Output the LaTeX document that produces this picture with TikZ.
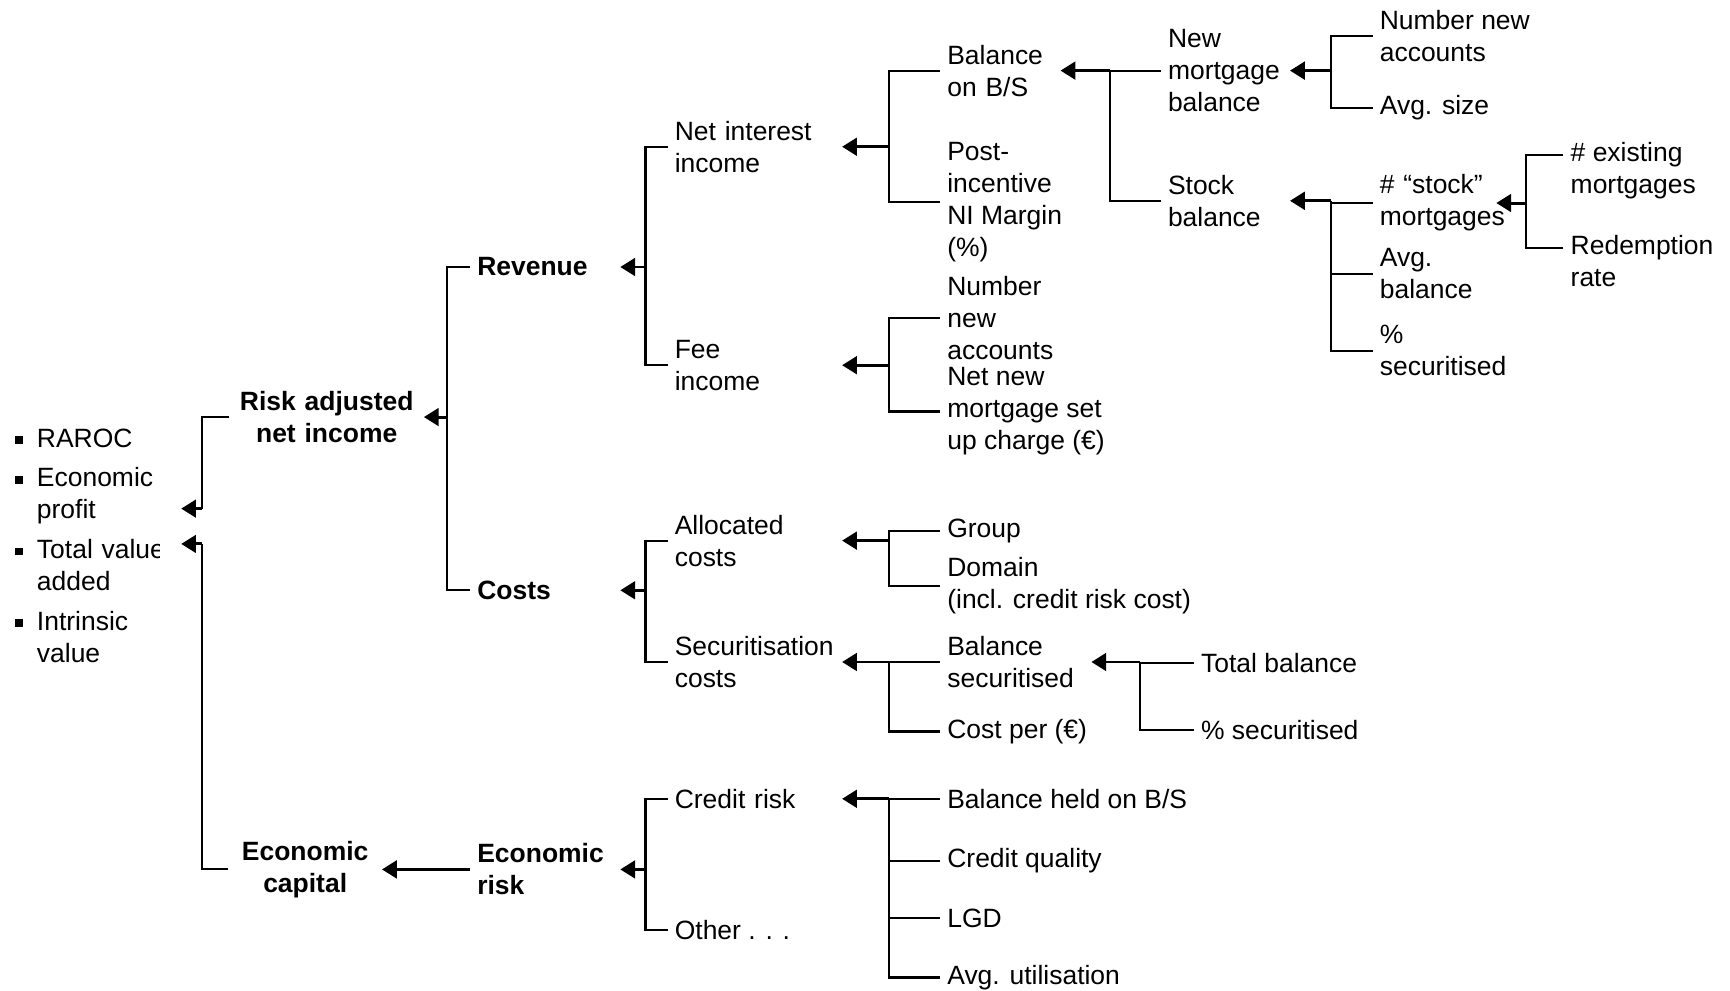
\documentclass[tikz,border=0pt]{standalone}
\usepackage{fontspec}
\setmainfont{Liberation Sans}
\usepackage{tikz}
\usetikzlibrary{arrows.meta}

\newcommand{\sqbul}{\rule[0.12em]{0.3em}{0.3em}}

\begin{document}
\begin{tikzpicture}[x=0.11033mm, y=-0.11033mm,
  lbl/.style={font=\fontsize{7.53}{9.1}\selectfont, align=left, anchor=west,
    inner xsep=0.66mm, inner ysep=0pt},
  hd/.style={lbl, font=\fontsize{7.53}{9.1}\selectfont\bfseries},
  link/.style={line width=0.6pt},
  arr/.style={line width=0.85pt, -{Triangle[length=4.2pt,width=5pt]}}]

  % Canvas
  \fill[white] (0,0) rectangle (1568,898);
  \useasboundingbox (0,0) rectangle (1568,898);

  % Bus columns
  \coordinate (c1) at (405,0);
  \coordinate (c2) at (585,0);
  \coordinate (c3) at (806,0);
  \coordinate (c4) at (1006,0);
  \coordinate (c4s) at (1033,0);
  \coordinate (c5) at (1206,0);
  \coordinate (c6) at (1383,0);
  \coordinate (j1) at (183,461);
  \coordinate (j2) at (183,493);

  % Measures
  \begin{scope}
    \clip (0,0) rectangle (145,898);
    \node[lbl, text width=15.89mm] (kpi) at (7,497) {%
      \begin{tabular}{@{}l@{\hspace{1.4mm}}l@{}}
        \sqbul & RAROC\\[2.2pt]
        \sqbul & Economic\\ & profit\\[2.2pt]
        \sqbul & Total value\\ & added\\[2.2pt]
        \sqbul & Intrinsic\\ & value
      \end{tabular}};
  \end{scope}

  % Level 1
  \node[hd, align=center, text width=17.98mm] (risk) at (208,378) {Risk adjusted\\net income};
  \node[hd, align=center, text width=13.90mm] (cap) at (207,788) {Economic\\capital};

  % Level 2
  \node[hd, text width=13.57mm] (rev) at (426,242) {Revenue};
  \node[hd, text width=13.57mm] (cost) at (426,535) {Costs};
  \node[hd, text width=13.57mm] (erisk) at (426,788) {Economic\\risk};

  % Level 3
  \node[lbl, text width=16mm] (nii) at (605,133) {Net interest\\income};
  \node[lbl, text width=16mm] (fee) at (605,331) {Fee\\income};
  \node[lbl, text width=16mm] (alloc) at (605,490) {Allocated\\costs};
  \node[lbl, text width=16mm] (secur) at (605,600) {Securitisation\\costs};
  \node[lbl, text width=16mm] (credit) at (605,724) {Credit risk};
  \node[lbl] (other) at (605,843) {Other . . .};

  % Level 4
  \node[lbl, text width=10.59mm] (bal) at (852,64) {Balance\\on B/S};
  \node[lbl] (post) at (852,183) {Post-\\incentive\\NI Margin\\(\%)};
  \node[lbl] (numfee) at (852,288) {Number\\new\\accounts};
  \node[lbl] (setup) at (852,373) {Net new\\mortgage set\\up charge (€)};
  \node[lbl] (group) at (852,481) {Group};
  \node[lbl] (domain) at (852,531) {Domain\\(incl. credit risk cost)};
  \node[lbl, text width=13.68mm] (balsec) at (852,600) {Balance\\securitised};
  \node[lbl] (costper) at (852,663) {Cost per (€)};
  \node[lbl] (held) at (852,724) {Balance held on B/S};
  \node[lbl] (quality) at (852,780) {Credit quality};
  \node[lbl] (lgd) at (852,832) {LGD};
  \node[lbl] (util) at (852,886) {Avg. utilisation};

  % Level 5
  \node[lbl, text width=11.47mm] (newm) at (1052,64) {New\\mortgage\\balance};
  \node[lbl, text width=11.47mm] (stock) at (1052,182) {Stock\\balance};
  \node[lbl] (totbal) at (1082,601) {Total balance};
  \node[lbl] (pctbal) at (1082,662) {\% securitised};

  % Level 6
  \node[lbl] (numnew) at (1244,33) {Number new\\accounts};
  \node[lbl] (avgsize) at (1244,98) {Avg. size};
  \node[lbl, text width=10.92mm] (stockno) at (1244,184) {\# “stock”\\mortgages};
  \node[lbl] (avgbal) at (1244,248) {Avg.\\balance};
  \node[lbl] (pctstock) at (1244,318) {\%\\securitised};

  % Level 7
  \node[lbl] (exist) at (1417,155) {\# existing\\mortgages};
  \node[lbl] (redemp) at (1417,237) {Redemption\\rate};

  % Into the measures
  \draw[link] (risk.west) -| (j1);
  \draw[arr] (j1) -- (kpi.east |- j1);
  \draw[link] (cap.west) -| (j2);
  \draw[arr] (j2) -- (kpi.east |- j2);

  % Level 1 bus
  \foreach \k in {rev,cost}
    \draw[link] (\k.west) -| (risk.east -| c1);
  \draw[arr] (risk.east -| c1) -- (risk.east);
  \draw[arr] (erisk.west) -- (cap.east |- erisk.west);

  % Level 2 buses
  \foreach \k/\p in {nii/rev, fee/rev, alloc/cost, secur/cost, credit/erisk, other/erisk}
    \draw[link] (\k.west) -| (\p.east -| c2);
  \foreach \p in {rev,cost,erisk}
    \draw[arr] (\p.east -| c2) -- (\p.east);

  % Level 3 buses
  \foreach \k/\p in {bal/nii, post/nii, numfee/fee, setup/fee, group/alloc, domain/alloc,
      balsec/secur, costper/secur, held/credit, quality/credit, lgd/credit, util/credit}
    \draw[link] (\k.west) -| (\p.east -| c3);
  \foreach \p in {nii,fee,alloc,secur,credit}
    \draw[arr] (\p.east -| c3) -- (\p.east);

  % Level 4 buses
  \foreach \k in {newm,stock}
    \draw[link] (\k.west) -| (bal.east -| c4);
  \draw[arr] (bal.east -| c4) -- (bal.east);
  \foreach \k in {totbal,pctbal}
    \draw[link] (\k.west) -| (balsec.east -| c4s);
  \draw[arr] (balsec.east -| c4s) -- (balsec.east);

  % Level 5 buses
  \foreach \k/\p in {numnew/newm, avgsize/newm, stockno/stock, avgbal/stock, pctstock/stock}
    \draw[link] (\k.west) -| (\p.east -| c5);
  \foreach \p in {newm,stock}
    \draw[arr] (\p.east -| c5) -- (\p.east);

  % Level 6 bus
  \draw[link] ([yshift=1.6mm]exist.west) -| (stockno.east -| c6);
  \draw[link] ([yshift=1.32mm]redemp.west) -| (stockno.east -| c6);
  \draw[arr] (stockno.east -| c6) -- (stockno.east);
\end{tikzpicture}
\end{document}
